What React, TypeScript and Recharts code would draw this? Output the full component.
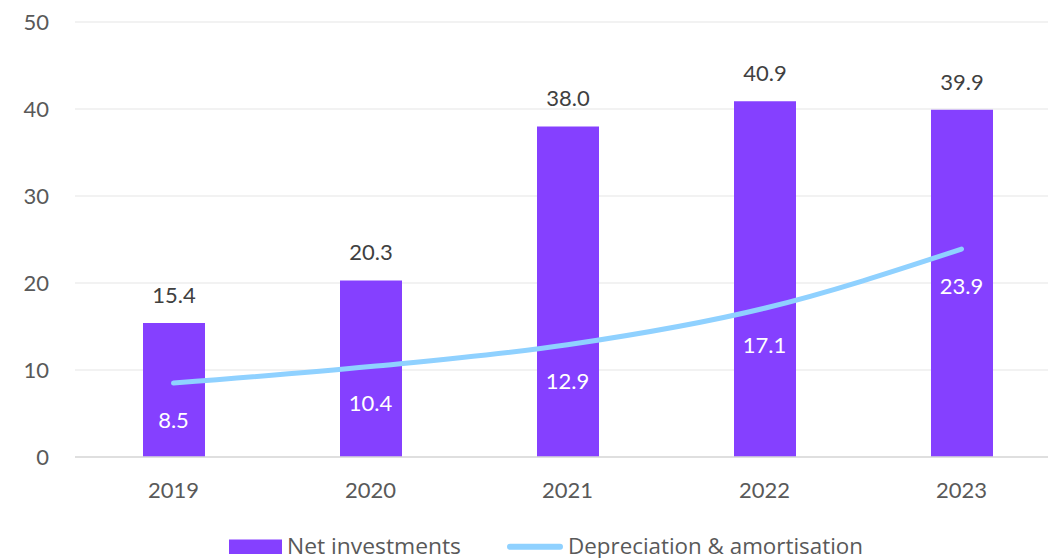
import {
  Bar,
  CartesianGrid,
  ComposedChart,
  LabelList,
  Legend,
  Line,
  XAxis,
  YAxis,
} from "recharts";

const years = ["2019", "2020", "2021", "2022", "2023"];
const netInvestments = [15.4, 20.3, 38.0, 40.9, 39.9];
const depreciation = [8.5, 10.4, 12.9, 17.1, 23.9];
const yTicks = [0, 10, 20, 30, 40, 50];

const BAR_COLOR = "#8540ff";
const LINE_COLOR = "#8fd1ff";
const FONT = "Lato, 'Noto Sans', sans-serif";
const LEGEND_FONT = "'Open Sans', Lato, sans-serif";

const data = years.map((year, i) => ({
  year,
  net: netInvestments[i],
  dep: depreciation[i],
}));

const fmt = (v: unknown) => (typeof v === "number" ? v.toFixed(1) : String(v ?? ""));

function LineValueLabel(props: any) {
  const { x, y, value } = props;
  return (
    <text
      x={x}
      y={y + 36}
      fill="#ffffff"
      fontSize={22}
      fontFamily={FONT}
      textAnchor="middle"
      dominantBaseline="central"
    >
      {fmt(value)}
    </text>
  );
}

// legend drawn as svg so the text widths of the original can be pinned with textLength
function ChartLegend() {
  return (
    <svg width={700} height={40} style={{ display: "block" }}>
      <rect x={0} y={12.5} width={53} height={14.5} fill={BAR_COLOR} />
      <text
        x={58}
        y={26.5}
        fontSize={22}
        fontFamily={LEGEND_FONT}
        fill="#595959"
        textLength={174}
        lengthAdjust="spacingAndGlyphs"
      >
        Net investments
      </text>
      <line
        x1={281}
        y1={19.7}
        x2={331}
        y2={19.7}
        stroke={LINE_COLOR}
        strokeWidth={6}
        strokeLinecap="round"
      />
      <text
        x={339}
        y={26.5}
        fontSize={22}
        fontFamily={LEGEND_FONT}
        fill="#595959"
        textLength={295}
        lengthAdjust="spacingAndGlyphs"
      >
        Depreciation &amp; amortisation
      </text>
    </svg>
  );
}

export default function App() {
  return (
    <div style={{ width: 1048, height: 550, overflow: "hidden", fontFamily: FONT }}>
      <ComposedChart
        width={1060}
        height={550}
        data={data}
        margin={{ top: 14, right: 8, bottom: 0, left: 0 }}
      >
        <CartesianGrid vertical={false} stroke="#eeeeee" strokeWidth={1.5} />
        <XAxis
          dataKey="year"
          axisLine={{ stroke: "#d9d9d9", strokeWidth: 1.5 }}
          tickLine={false}
          tickSize={0}
          tickMargin={25}
          height={61}
          tick={{ fontSize: 22, fill: "#595959", fontFamily: FONT }}
        />
        <YAxis
          domain={[0, 50]}
          ticks={yTicks}
          width={67}
          axisLine={false}
          tickLine={false}
          tickSize={0}
          tickMargin={26}
          tick={{ fontSize: 22, fill: "#595959", fontFamily: FONT }}
        />
        <Legend
          verticalAlign="bottom"
          content={() => <ChartLegend />}
          wrapperStyle={{ left: 221, top: 519, width: 700, height: 40 }}
        />
        <Bar
          dataKey="net"
          name="Net investments"
          fill={BAR_COLOR}
          barSize={62}
          isAnimationActive={false}
        >
          <LabelList
            dataKey="net"
            position="top"
            offset={20}
            formatter={fmt}
            style={{ fontSize: 22, fill: "#404040", fontFamily: FONT }}
          />
        </Bar>
        <Line
          type="monotone"
          dataKey="dep"
          name="Depreciation & amortisation"
          stroke={LINE_COLOR}
          strokeWidth={5}
          strokeLinecap="round"
          dot={false}
          activeDot={false}
          isAnimationActive={false}
        >
          <LabelList dataKey="dep" content={LineValueLabel} />
        </Line>
      </ComposedChart>
    </div>
  );
}
